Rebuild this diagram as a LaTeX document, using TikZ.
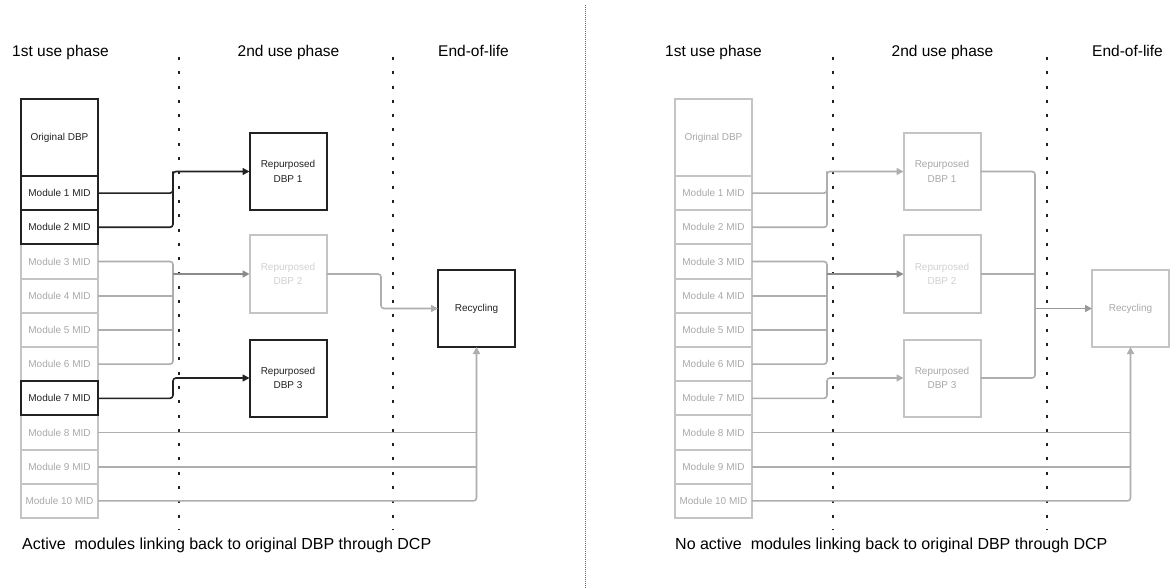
\documentclass[tikz,border=0pt]{standalone}
\usepackage{fontspec}
\setmainfont{Liberation Sans}
\usetikzlibrary{arrows.meta}

\definecolor{ink}{HTML}{222222}
\definecolor{boxgrey}{HTML}{C4C4C4}
\definecolor{txtgrey}{HTML}{A8A8A8}
\definecolor{txtpale}{HTML}{D0D0D0}
\definecolor{linegrey}{HTML}{AEAEAE}
\definecolor{mergegrey}{HTML}{8A8A8A}
\definecolor{feedgrey}{HTML}{999999}
\definecolor{sepgrey}{HTML}{6A6A6A}

\tikzset{
  dbpbox/.style={draw, line width=2pt, minimum width=77pt, inner sep=0pt, outer sep=0pt,
    align=center, font=\fontsize{10}{14.5}\selectfont},
  activebox/.style={dbpbox, draw=ink, text=ink},
  idlebox/.style={dbpbox, draw=boxgrey, text=txtgrey},
  bigbox/.style={minimum height=77pt},
  modbox/.style={minimum height=34.2pt},
  conn/.style={line width=1.6pt, rounded corners=3pt},
  activelink/.style={conn, draw=ink},
  idlelink/.style={conn, draw=linegrey},
  arrowed/.style={-{Triangle[length=7pt,width=7pt]}},
  phaseline/.style={draw=ink, line width=1.5pt, dash pattern=on 3pt off 11.3pt},
  sepline/.style={draw=sepgrey, line width=0.8pt, dash pattern=on 0.8pt off 1.2pt},
  phasehead/.style={font=\fontsize{15.5}{18}\selectfont, text=black, inner sep=0pt},
  capt/.style={font=\fontsize{16}{19}\selectfont, text=black, inner sep=0pt, anchor=base west},
}

\begin{document}
\begin{tikzpicture}[x=1pt, y=-1pt]
\useasboundingbox (0,0) rectangle (1170,588);

% separator between the two scenarios
\draw[sepline] (585,5) -- (585,588);

% ---------------- Scenario A: active modules ----------------
\draw[phaseline] (179,57) -- (179,530);
\draw[phaseline] (393,57) -- (393,530);

\node[phasehead, anchor=base west] (L-h1) at (12,57) {1st use phase};
\node[phasehead, anchor=base] (L-h2) at (288.5,57) {2nd use phase};
\node[phasehead, anchor=base west] (L-h3) at (438,57) {End-of-life};

\foreach \i in {3,4,5,6,8,9,10}
  \node[idlebox, modbox] (L-m\i) at (59.5,{176+(\i-0.5)*34.2}) {Module \i\ MID};
\node[activebox, bigbox] (L-orig) at (59.5,137.5) {Original DBP};
\foreach \i in {1,2,7}
  \node[activebox, modbox] (L-m\i) at (59.5,{176+(\i-0.5)*34.2}) {Module \i\ MID};

\node[activebox, bigbox] (L-r1) at (288,171.5) {Repurposed\\DBP 1};
\node[idlebox, bigbox, text=txtpale] (L-r2) at (288,274) {Repurposed\\DBP 2};
\node[activebox, bigbox] (L-r3) at (288,378) {Repurposed\\DBP 3};
\node[activebox, bigbox] (L-rec) at (476.5,308.5) {Recycling};

\coordinate (L-x1) at (173,0);
\coordinate (L-x2) at (381,0);
\coordinate (L-j1) at (L-r1.west -| L-x1);
\coordinate (L-j2) at (L-r2.west -| L-x1);
\coordinate (L-j3) at (L-r3.west -| L-x1);
\coordinate (L-j4) at (L-rec.west -| L-x2);

\draw[idlelink] (L-m3.east) -| (L-j2);
\draw[idlelink] (L-m6.east) -| (L-j2);
\draw[idlelink] (L-m4.east) -- (L-m4.east -| L-x1);
\draw[idlelink] (L-m5.east) -- (L-m5.east -| L-x1);
\draw[idlelink, draw=mergegrey, arrowed] (L-j2) -- (L-r2.west);
\draw[idlelink, arrowed] (L-r2.east) -| (L-j4) -- (L-rec.west);
\draw[idlelink] (L-m8.east) -- (L-m8.east -| L-rec.south);
\draw[idlelink] (L-m9.east) -- (L-m9.east -| L-rec.south);
\draw[idlelink, arrowed] (L-m10.east) -| (L-rec.south);
\draw[activelink] (L-m1.east) -| (L-j1);
\draw[activelink, arrowed] (L-m2.east) -| (L-j1) -- (L-r1.west);
\draw[activelink, arrowed] (L-m7.east) -| (L-j3) -- (L-r3.west);

\node[capt] (L-cap) at (22,549) {Active\ \ modules linking back to original DBP through DCP};

% ---------------- Scenario B: no active modules ----------------
\begin{scope}[xshift=654pt]
\draw[phaseline] (179,57) -- (179,530);
\draw[phaseline] (393,57) -- (393,530);

\node[phasehead, anchor=base west] (R-h1) at (11,57) {1st use phase};
\node[phasehead, anchor=base] (R-h2) at (288.5,57) {2nd use phase};
\node[phasehead, anchor=base west] (R-h3) at (438,57) {End-of-life};

\node[idlebox, bigbox] (R-orig) at (59.5,137.5) {Original DBP};
\foreach \i in {1,...,10}
  \node[idlebox, modbox] (R-m\i) at (59.5,{176+(\i-0.5)*34.2}) {Module \i\ MID};

\node[idlebox, bigbox] (R-r1) at (288,171.5) {Repurposed\\DBP 1};
\node[idlebox, bigbox, text=txtpale] (R-r2) at (288,274) {Repurposed\\DBP 2};
\node[idlebox, bigbox] (R-r3) at (288,378) {Repurposed\\DBP 3};
\node[idlebox, bigbox] (R-rec) at (476.5,308.5) {Recycling};

\coordinate (R-x1) at (173,0);
\coordinate (R-x2) at (381,0);
\coordinate (R-j1) at (R-r1.west -| R-x1);
\coordinate (R-j2) at (R-r2.west -| R-x1);
\coordinate (R-j3) at (R-r3.west -| R-x1);
\coordinate (R-j4) at (R-rec.west -| R-x2);

\draw[idlelink] (R-m1.east) -| (R-j1);
\draw[idlelink, arrowed] (R-m2.east) -| (R-j1) -- (R-r1.west);
\draw[idlelink] (R-m3.east) -| (R-j2);
\draw[idlelink] (R-m6.east) -| (R-j2);
\draw[idlelink] (R-m4.east) -- (R-m4.east -| R-x1);
\draw[idlelink] (R-m5.east) -- (R-m5.east -| R-x1);
\draw[idlelink, draw=mergegrey, arrowed] (R-j2) -- (R-r2.west);
\draw[idlelink, arrowed] (R-m7.east) -| (R-j3) -- (R-r3.west);
\draw[idlelink] (R-r1.east) -| (R-j4);
\draw[idlelink] (R-r3.east) -| (R-j4);
\draw[idlelink] (R-r2.east) -- (R-r2.east -| R-x2);
\draw[idlelink, draw=feedgrey, arrowed] (R-j4) -- (R-rec.west);
\draw[idlelink] (R-m8.east) -- (R-m8.east -| R-rec.south);
\draw[idlelink] (R-m9.east) -- (R-m9.east -| R-rec.south);
\draw[idlelink, arrowed] (R-m10.east) -| (R-rec.south);

\node[capt] (R-cap) at (21,549) {No active\ \ modules linking back to original DBP through DCP};
\end{scope}
\end{tikzpicture}
\end{document}
